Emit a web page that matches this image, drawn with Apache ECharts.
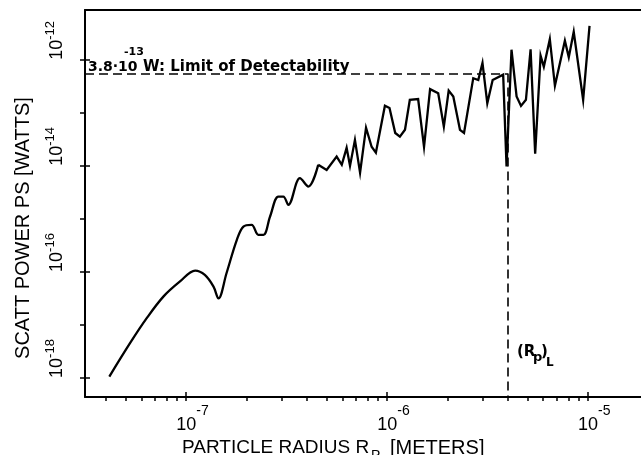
<!DOCTYPE html>
<html><head><meta charset="utf-8">
<script src="https://cdn.jsdelivr.net/npm/echarts@6/dist/echarts.min.js"></script>
<style>html,body{margin:0;padding:0;background:#fff}#c{width:641px;height:455px}</style>
</head><body><div id="c"></div>
<script>
// Particle radius [m]
const radius = [4.15e-8, 5.26e-8, 6.37e-8, 7.71e-8, 9.33e-8, 1.11e-7, 1.24e-7, 1.37e-7, 1.45e-7, 1.59e-7,
  1.79e-7, 1.93e-7, 2.12e-7, 2.29e-7, 2.43e-7, 2.62e-7, 2.88e-7, 3.05e-7, 3.23e-7, 3.69e-7,
  4.06e-7, 4.55e-7, 5.01e-7, 5.62e-7, 5.96e-7, 6.30e-7, 6.55e-7, 6.93e-7, 7.35e-7, 7.87e-7,
  8.39e-7, 8.81e-7, 9.77e-7, 1.03e-6, 1.10e-6, 1.16e-6, 1.23e-6, 1.30e-6, 1.43e-6, 1.53e-6,
  1.64e-6, 1.80e-6, 1.92e-6, 2.03e-6, 2.14e-6, 2.31e-6, 2.42e-6, 2.69e-6, 2.85e-6, 2.99e-6,
  3.16e-6, 3.36e-6, 3.79e-6, 3.94e-6, 4.17e-6, 4.42e-6, 4.65e-6, 4.92e-6, 5.19e-6, 5.47e-6,
  5.82e-6, 6.04e-6, 6.47e-6, 6.86e-6, 7.69e-6, 8.04e-6, 8.51e-6, 9.48e-6, 1.02e-5];
// Scattered power [W]
const power = [1.06e-18, 4.52e-18, 1.34e-17, 3.42e-17, 6.61e-17, 1.06e-16, 8.77e-17, 5.28e-17, 3.16e-17, 9.44e-17,
  4.02e-16, 7.16e-16, 7.71e-16, 5.01e-16, 5.01e-16, 1.11e-15, 2.64e-15, 2.64e-15, 1.84e-15, 5.86e-15,
  4.07e-15, 1.05e-14, 8.41e-15, 1.50e-14, 1.05e-14, 2.19e-14, 1.00e-14, 3.09e-14, 7.41e-15, 5.25e-14,
  2.29e-14, 1.78e-14, 1.36e-13, 1.23e-13, 4.17e-14, 3.55e-14, 4.79e-14, 1.76e-13, 1.82e-13, 2.29e-14,
  2.80e-13, 2.34e-13, 5.50e-14, 2.63e-13, 2.04e-13, 4.79e-14, 4.17e-14, 4.51e-13, 4.17e-13, 8.71e-13,
  1.51e-13, 4.17e-13, 5.25e-13, 9.77e-15, 1.55e-12, 2.04e-13, 1.35e-13, 1.76e-13, 1.58e-12, 1.70e-14,
  1.20e-12, 7.41e-13, 2.45e-12, 3.24e-13, 2.29e-12, 1.12e-12, 3.39e-12, 1.76e-13, 4.37e-12];
const smoothEnd = 22; // first part of the curve is drawn smooth
const xMajorTicks = [1e-7, 1e-6, 1e-5];
const xMinorTicks = [4e-8, 5e-8, 6e-8, 7e-8, 8e-8, 9e-8, 1e-7, 2e-7, 3e-7, 4e-7, 5e-7, 6e-7, 7e-7, 8e-7, 9e-7,
  1e-6, 2e-6, 3e-6, 4e-6, 5e-6, 6e-6, 7e-6, 8e-6, 9e-6, 1e-5];
const yTicks = [1e-12, 1e-13, 1e-14, 1e-15, 1e-16, 1e-17, 1e-18];
const yLabelTicks = [1e-12, 1e-14, 1e-16, 1e-18];
const limitPower = 5.5e-13;
const limitRadius = 4.0e-6;
const xRange = [3.14e-8, 1.84e-5];
const yRange = [4.37e-19, 8.71e-12];

const FONT = "'Liberation Sans', Arial, sans-serif";
const BOLD = "'DejaVu Sans', sans-serif";
const richX = {
  sp: {width: 13},
  b: {fontSize: 18, fontFamily: FONT, color: '#000', verticalAlign: 'bottom', lineHeight: 30},
  s: {fontSize: 14, fontFamily: FONT, color: '#000', verticalAlign: 'top', lineHeight: 12}
};
const richY = {
  b: {fontSize: 18, fontFamily: FONT, color: '#000', verticalAlign: 'bottom', lineHeight: 22},
  s: {fontSize: 13, fontFamily: FONT, color: '#000', verticalAlign: 'top', lineHeight: 12}
};
const expOf = v => Math.round(Math.log10(v));

const chart = echarts.init(document.getElementById('c'), null, {renderer: 'canvas'});
const seriesA = radius.slice(0, smoothEnd).map((r, i) => [r, power[i]]);
const seriesB = radius.slice(smoothEnd - 1).map((r, i) => [r, power[i + smoothEnd - 1]]);

const baseX = {type: 'log', logBase: 10, min: xRange[0], max: xRange[1], splitLine: {show: false}};
const baseY = {type: 'log', logBase: 10, min: yRange[0], max: yRange[1], splitLine: {show: false}};

chart.setOption({
  animation: false,
  backgroundColor: '#fff',
  grid: {left: 85, right: 0, top: 10, bottom: 58, containLabel: false, outerBoundsMode: 'none'},
  xAxis: [
    Object.assign({}, baseX, {
      position: 'bottom',
      axisLine: {show: true, lineStyle: {color: '#000', width: 2}},
      axisTick: {show: true, customValues: xMinorTicks, length: 4, lineStyle: {color: '#000', width: 1.5}},
      axisLabel: {show: true, customValues: xMajorTicks, margin: 7,
        formatter: v => '{sp|\u00a0}{b|10}{s|' + expOf(v) + '}', rich: richX}
    }),
    Object.assign({}, baseX, {
      position: 'bottom',
      axisLine: {show: false},
      axisTick: {show: true, inside: true, customValues: xMajorTicks, length: 5, lineStyle: {color: '#000', width: 1.5}},
      axisLabel: {show: false}
    }),
    Object.assign({}, baseX, {
      position: 'top',
      axisLine: {show: true, lineStyle: {color: '#000', width: 2}},
      axisTick: {show: false},
      axisLabel: {show: false}
    })
  ],
  yAxis: [
    Object.assign({}, baseY, {
      position: 'left',
      axisLine: {show: true, lineStyle: {color: '#000', width: 2}},
      axisTick: {show: true, customValues: yTicks, length: 5, lineStyle: {color: '#000', width: 1.5}},
      axisLabel: {show: true, customValues: yLabelTicks, rotate: 90, margin: 19, align: 'left', verticalAlign: 'bottom',
        formatter: v => '{b|10}{s|' + expOf(v) + '}', rich: richY}
    }),
    Object.assign({}, baseY, {
      position: 'left',
      axisLine: {show: false},
      axisTick: {show: true, inside: true, customValues: yLabelTicks, length: 5, lineStyle: {color: '#000', width: 1.5}},
      axisLabel: {show: false}
    })
  ],
  series: [
    {type: 'line', data: seriesA, smooth: 0.35, symbol: 'none', xAxisIndex: 0, yAxisIndex: 0,
      lineStyle: {color: '#000', width: 2.3}},
    {type: 'line', data: seriesB, smooth: false, symbol: 'none', xAxisIndex: 0, yAxisIndex: 0,
      lineStyle: {color: '#000', width: 2.3, join: 'miter'},
      markLine: {silent: true, symbol: ['none', 'none'], label: {show: false},
        lineStyle: {color: '#000', width: 1.6, type: [9, 5]},
        data: [
          [{coord: [xRange[0], limitPower]}, {coord: [limitRadius, limitPower]}],
          [{coord: [limitRadius, limitPower]}, {coord: [limitRadius, yRange[0]]}]
        ]}}
  ],
  graphic: [
    {type: 'text', x: 23, y: 228, rotation: Math.PI / 2,
      style: {text: 'SCATT POWER PS [WATTS]', font: '20px ' + FONT, fill: '#000', align: 'center', verticalAlign: 'middle'}},
    {type: 'text', x: 182, y: 448,
      style: {text: 'PARTICLE RADIUS R', font: '19px ' + FONT, fill: '#000', align: 'left', verticalAlign: 'middle'}},
    {type: 'text', x: 371, y: 456,
      style: {text: 'P', font: '14px ' + FONT, fill: '#000', align: 'left', verticalAlign: 'middle'}},
    {type: 'text', x: 390, y: 448,
      style: {text: '[METERS]', font: '20px ' + FONT, fill: '#000', align: 'left', verticalAlign: 'middle'}},
    {type: 'text', x: 88, y: 67,
      style: {text: '3.8\u00b710', font: 'bold 14px ' + BOLD, fill: '#000', align: 'left', verticalAlign: 'middle'}},
    {type: 'text', x: 124, y: 52,
      style: {text: '-13', font: 'bold 11px ' + BOLD, fill: '#000', align: 'left', verticalAlign: 'middle'}},
    {type: 'text', x: 143, y: 67,
      style: {text: 'W: Limit of Detectability', font: 'bold 15px ' + BOLD, fill: '#000', align: 'left', verticalAlign: 'middle'}},
    {type: 'text', x: 517, y: 352,
      style: {text: '(R', font: 'bold 15px ' + BOLD, fill: '#000', align: 'left', verticalAlign: 'middle'}},
    {type: 'text', x: 533, y: 358,
      style: {text: 'p', font: 'bold 13px ' + BOLD, fill: '#000', align: 'left', verticalAlign: 'middle'}},
    {type: 'text', x: 541, y: 352,
      style: {text: ')', font: 'bold 15px ' + BOLD, fill: '#000', align: 'left', verticalAlign: 'middle'}},
    {type: 'text', x: 546, y: 363,
      style: {text: 'L', font: 'bold 12px ' + BOLD, fill: '#000', align: 'left', verticalAlign: 'middle'}}
  ]
});
</script>
</body></html>
